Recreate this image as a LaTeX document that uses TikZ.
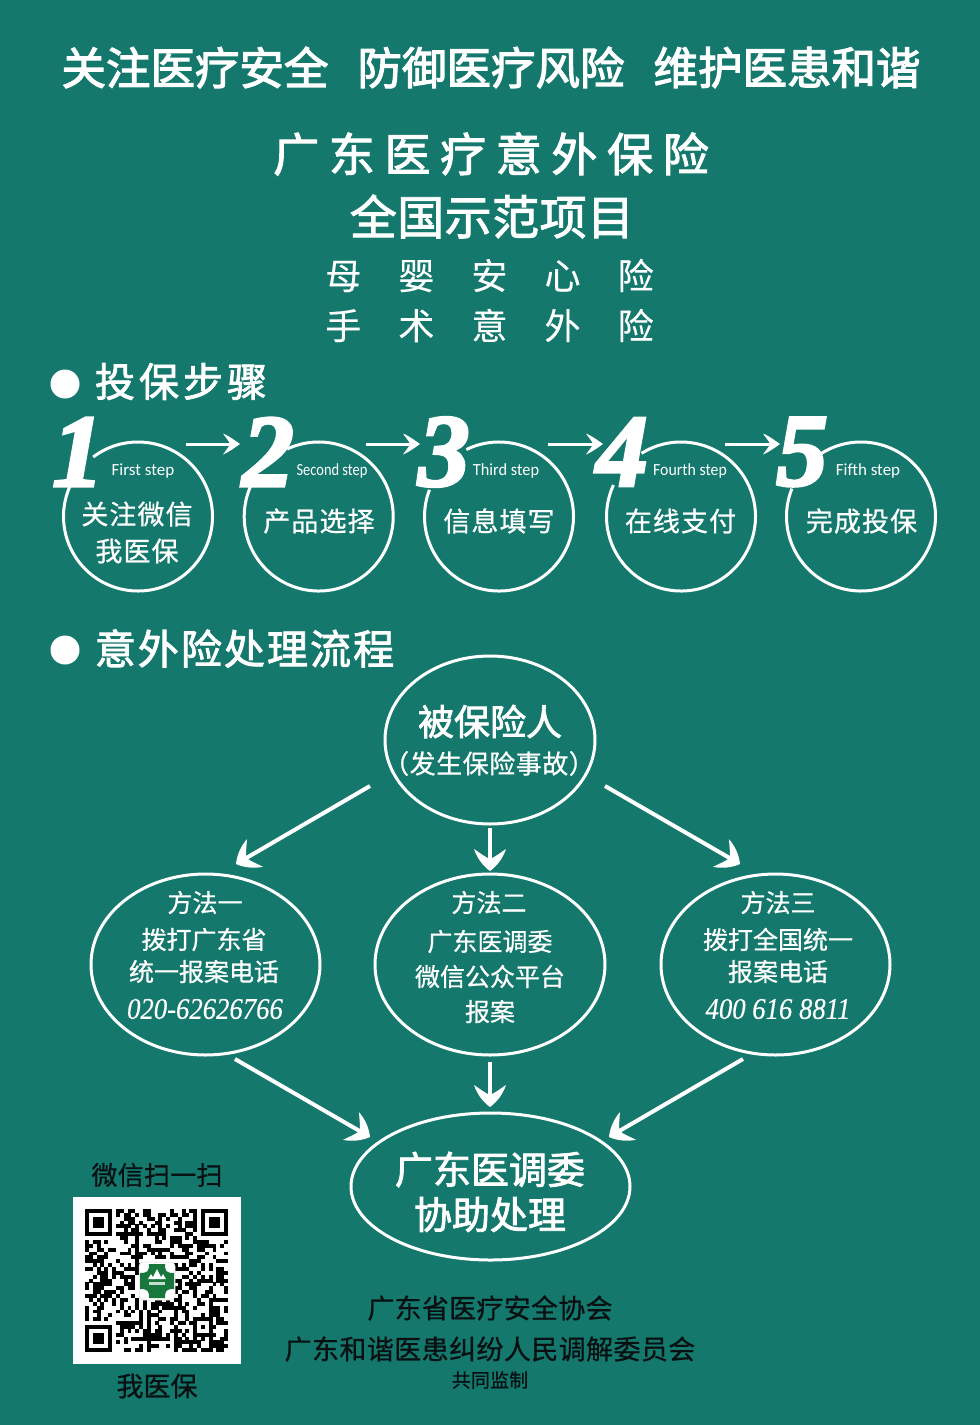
\documentclass[tikz,border=0pt]{standalone}
\usepackage{fontspec}
\usetikzlibrary{arrows.meta,shapes.geometric,calc}
\setmainfont{Noto Sans CJK SC}
\newfontfamily\numfont{Liberation Serif}
\newfontfamily\latfont{Carlito}
\definecolor{bg}{RGB}{20,120,108}
\definecolor{ink}{RGB}{8,16,18}
\definecolor{logog}{RGB}{24,120,60}
\newcommand{\tx}[4][0.7]{\addfontfeature{LetterSpace=#3,FakeBold=#1}\fontsize{#2}{#2}\selectfont #4}
\newcommand{\ts}[1]{\tx[2.6]{44.5}{0}{#1}}
\newcommand{\stepno}[1]{\numfont\bfseries\itshape\addfontfeature{FakeBold=3}\fontsize{103}{103}\selectfont #1}
\newcommand{\steplat}[2]{\latfont\fontsize{17}{17}\selectfont\scalebox{#1}[1]{#2}}
\newcommand{\phone}[1]{\numfont\itshape\addfontfeature{FakeBold=0.4}\fontsize{30}{30}\selectfont\scalebox{0.89}[1]{#1}}
\pgfdeclarearrow{
  name=FlowTip,
  setup code={\pgfarrowssettipend{0pt}\pgfarrowssetlineend{-10pt}\pgfarrowssetbackend{-22pt}\pgfarrowssetvisualbackend{-10pt}},
  drawing code={
    \pgfpathmoveto{\pgfqpoint{0pt}{0pt}}
    \pgfpathcurveto{\pgfqpoint{-5pt}{7pt}}{\pgfqpoint{-13pt}{13pt}}{\pgfqpoint{-22pt}{16pt}}
    \pgfpathcurveto{\pgfqpoint{-18pt}{10pt}}{\pgfqpoint{-14pt}{5pt}}{\pgfqpoint{-12pt}{0pt}}
    \pgfpathcurveto{\pgfqpoint{-14pt}{-5pt}}{\pgfqpoint{-18pt}{-10pt}}{\pgfqpoint{-22pt}{-16pt}}
    \pgfpathcurveto{\pgfqpoint{-13pt}{-13pt}}{\pgfqpoint{-5pt}{-7pt}}{\pgfqpoint{0pt}{0pt}}
    \pgfusepathqfill},
}
\pgfdeclarearrow{
  name=StepTip,
  setup code={\pgfarrowssettipend{0pt}\pgfarrowssetlineend{-8pt}\pgfarrowssetbackend{-17pt}\pgfarrowssetvisualbackend{-8pt}},
  drawing code={
    \pgfpathmoveto{\pgfqpoint{0pt}{0pt}}
    \pgfpathcurveto{\pgfqpoint{-5pt}{3.5pt}}{\pgfqpoint{-11pt}{8pt}}{\pgfqpoint{-17pt}{10.5pt}}
    \pgfpathcurveto{\pgfqpoint{-14pt}{6pt}}{\pgfqpoint{-11pt}{3pt}}{\pgfqpoint{-10pt}{0pt}}
    \pgfpathcurveto{\pgfqpoint{-11pt}{-3pt}}{\pgfqpoint{-14pt}{-6pt}}{\pgfqpoint{-17pt}{-10.5pt}}
    \pgfpathcurveto{\pgfqpoint{-11pt}{-8pt}}{\pgfqpoint{-5pt}{-3.5pt}}{\pgfqpoint{0pt}{0pt}}
    \pgfusepathqfill},
}
\tikzset{
  wt/.style={text=white,inner sep=0pt,outer sep=0pt,anchor=center},
  dk/.style={text=ink,inner sep=0pt,outer sep=0pt,anchor=center},
  ringshape/.style={circle,inner sep=0pt,outer sep=0pt,minimum size=149pt},
  ringline/.style={draw=white,line width=3pt},
  oval/.style={ellipse,draw=white,line width=3pt,inner sep=0pt,outer sep=0pt},
  steparrow/.style={draw=white,line width=3pt,-{StepTip}},
  flowarrow/.style={draw=white,line width=4pt,-{FlowTip}},
}
\begin{document}
\begin{tikzpicture}[x=1pt,y=-1pt]
\useasboundingbox (0,0) rectangle (980,1425);
\fill[bg] (0,0) rectangle (980,1425);
% headline
\node[wt] (h1) at (195,67.5) {\ts{关注医疗安全}};
\node[wt] (h2) at (491,67.5) {\ts{防御医疗风险}};
\node[wt] (h3) at (787,67.5) {\ts{维护医患和谐}};
\node[wt] (t1) at (491,154) {\tx[2.2]{46}{21}{广东医疗意外保险}};
\node[wt] (t2) at (492,216.5) {\tx[2]{47}{1}{全国示范项目}};
\node[wt] (t3) at (489.5,275.5) {\tx[0.2]{36}{103}{母婴安心险}};
\node[wt] (t4) at (489.5,325.5) {\tx[0.2]{36}{103}{手术意外险}};
% section heads
\fill[white] (65,384) circle[radius=14.5pt];
\fill[white] (65,650) circle[radius=14.5pt];
\node[wt] (s1) at (181,381.5) {\tx[2]{40}{10}{投保步骤}};
\node[wt] (s2) at (244.5,648.5) {\tx[2]{41}{5}{意外险处理流程}};
% step circles
\node[ringshape] (c1) at (138,516.5) {};
\node[ringshape] (c2) at (318.7,516.5) {};
\node[ringshape] (c3) at (499,516.5) {};
\node[ringshape] (c4) at (681,516.5) {};
\node[ringshape] (c5) at (861,516.5) {};
\draw[ringline] (c1.127) arc[start angle=127,delta angle=-331,radius=74.5pt];
\draw[ringline] (c2.115) arc[start angle=115,delta angle=-319,radius=74.5pt];
\draw[ringline] (c3.116) arc[start angle=116,delta angle=-317,radius=74.5pt];
\draw[ringline] (c4.122) arc[start angle=122,delta angle=-327,radius=74.5pt];
\draw[ringline] (c5.123) arc[start angle=123,delta angle=-325,radius=74.5pt];
\node[wt] (n1) at (78,452) {\stepno{1}};
\node[wt] (n2) at (268,452) {\stepno{2}};
\node[wt] (n3) at (444,452) {\stepno{3}};
\node[wt] (n4) at (622,452) {\stepno{4}};
\node[wt] (n5) at (802,452) {\stepno{5}};
\node[wt] (l1) at (143,471) {\steplat{1}{First step}};
\node[wt] (l2) at (332,471) {\steplat{0.85}{Second step}};
\node[wt] (l3) at (506,471) {\steplat{0.96}{Third step}};
\node[wt] (l4) at (690,471) {\steplat{0.93}{Fourth step}};
\node[wt] (l5) at (868,471) {\steplat{1}{Fifth step}};
\node[wt] (a1) at (137,514) {\tx{27}{4}{关注微信}};
\node[wt] (a1b) at (137,551) {\tx{27}{4}{我医保}};
\node[wt] (a2) at (319,521) {\tx{27}{4}{产品选择}};
\node[wt] (a3) at (499,521) {\tx{27}{4}{信息填写}};
\node[wt] (a4) at (680.5,521) {\tx{27}{4}{在线支付}};
\node[wt] (a5) at (861.5,521) {\tx{27}{4}{完成投保}};
\coordinate (a12s) at (186,444); \coordinate (a12e) at (240,444);
\coordinate (a23s) at (366,444); \coordinate (a23e) at (420,444);
\coordinate (a34s) at (548,444); \coordinate (a34e) at (603,444);
\coordinate (a45s) at (725,444); \coordinate (a45e) at (780,444);
\draw[steparrow] (a12s) -- (a12e);
\draw[steparrow] (a23s) -- (a23e);
\draw[steparrow] (a34s) -- (a34e);
\draw[steparrow] (a45s) -- (a45e);
% flow ovals
\node[oval,minimum width=210pt,minimum height=168pt] (top) at (490,740) {};
\node[oval,minimum width=229pt,minimum height=181pt] (m1) at (205.5,964.5) {};
\node[oval,minimum width=230pt,minimum height=181pt] (m2) at (490,964.5) {};
\node[oval,minimum width=229pt,minimum height=181pt] (m3) at (775.5,964.5) {};
\node[oval,minimum width=279pt,minimum height=147pt] (bot) at (490.5,1186.5) {};
\node[wt] (topa) at (490,721.5) {\tx[2.2]{36}{0}{被保险人}};
\node[wt] (topb) at (489,763.5) {\tx{26}{2}{（发生保险事故）}};
\node[wt] (m1a) at (205,902.5) {\tx{25}{0}{方法一}};
\node[wt] (m1b) at (204,939.5) {\tx{25}{0}{拨打广东省}};
\node[wt] (m1c) at (204,971.5) {\tx{25}{0}{统一报案电话}};
\node[wt] (m1d) at (205,1009) {\phone{020-62626766}};
\node[wt] (m2a) at (489,902.5) {\tx{25}{0}{方法二}};
\node[wt] (m2b) at (490,941.5) {\tx{25}{0}{广东医调委}};
\node[wt] (m2c) at (490,976.5) {\tx{25}{0}{微信公众平台}};
\node[wt] (m2d) at (490,1011.5) {\tx{25}{0}{报案}};
\node[wt] (m3a) at (778,902.5) {\tx{25}{0}{方法三}};
\node[wt] (m3b) at (778,939.5) {\tx{25}{0}{拨打全国统一}};
\node[wt] (m3c) at (778,971.5) {\tx{25}{0}{报案电话}};
\node[wt] (m3d) at (778,1009) {\phone{400 616 8811}};
\node[wt] (bota) at (490,1169.5) {\tx[2.2]{38}{0}{广东医调委}};
\node[wt] (botb) at (490,1214.5) {\tx[2.2]{38}{0}{协助处理}};
\coordinate (f1s) at (370,786); \coordinate (f1e) at (236,864);
\coordinate (f2s) at (490,828); \coordinate (f2e) at (490,871);
\coordinate (f3s) at (605,786); \coordinate (f3e) at (740,864);
\coordinate (f4s) at (235,1059); \coordinate (f4e) at (370,1137);
\coordinate (f5s) at (490,1062); \coordinate (f5e) at (490,1107);
\coordinate (f6s) at (743,1059); \coordinate (f6e) at (609,1137);
\foreach \k in {1,...,6} {\draw[flowarrow] (f\k s) -- (f\k e);}
% footer
\node[dk] (w1) at (157,1175) {\tx{26}{1}{微信扫一扫}};
\node[dk] (w2) at (157,1386) {\tx{27}{0}{我医保}};
\node[dk] (o1) at (490,1308) {\tx{27}{1}{广东省医疗安全协会}};
\node[dk] (o2) at (490,1349) {\tx{27}{1.5}{广东和谐医患纠纷人民调解委员会}};
\node[dk] (o3) at (490,1380) {\tx{19}{1}{共同监制}};
% QR
\fill[white] (73,1197) rectangle (240.5,1364);
\begin{scope}[shift={(85,1209)},x=3.865pt,y=-3.865pt]
\pgfmathsetseed{2718}
\foreach \i in {0,...,36}{\foreach \j in {0,...,36}{
  \pgfmathrandominteger{\rv}{0}{99}
  \pgfmathtruncatemacro{\keep}{(\rv<50)&&!(\i<8&&\j<8)&&!(\i>28&&\j<8)&&!(\i<8&&\j>28)&&!(\i>27&&\i<33&&\j>27&&\j<33)}
  \ifnum\keep=1 \fill[black] (\i,\j) rectangle ++(1.02,1.02);\fi
}}
\foreach \ox/\oy in {0/0,30/0,0/30}{
  \fill[black] (\ox,\oy) rectangle ++(7,7);
  \fill[white] (\ox+1,\oy+1) rectangle ++(5,5);
  \fill[black] (\ox+2,\oy+2) rectangle ++(3,3);
}
\fill[black] (28,28) rectangle ++(5,5);
\fill[white] (29,29) rectangle ++(3,3);
\fill[black] (30,30) rectangle ++(1,1);
\end{scope}
% QR logo
\fill[white,draw=black!15,line width=0.5pt,rounded corners=4pt] (139,1262) rectangle (175,1300);
\fill[logog] (149,1264) -- (165,1264) .. controls (165,1271) and (166,1273) .. (174,1273)
  -- (174,1289) .. controls (166,1289) and (165,1291) .. (165,1298) -- (149,1298)
  .. controls (149,1291) and (148,1289) .. (140,1289) -- (140,1273)
  .. controls (148,1273) and (149,1271) .. (149,1264) -- cycle;
\fill[white] (157,1269) -- (162,1279) -- (152,1279) -- cycle;
\fill[white] (151,1274) -- (154,1279) -- (148,1279) -- cycle;
\fill[white] (163,1274) -- (166,1279) -- (160,1279) -- cycle;
\fill[white!75!logog] (149,1282) rectangle (165,1284.5);
\end{tikzpicture}
\end{document}
